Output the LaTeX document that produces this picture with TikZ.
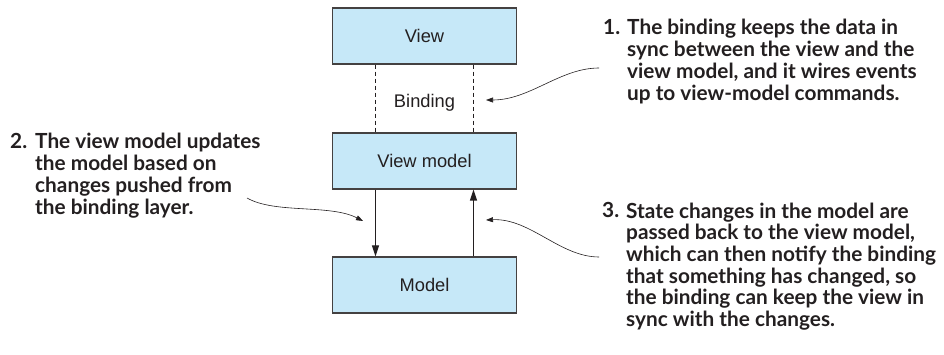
\documentclass[tikz,border=0pt]{standalone}
\usepackage{fontspec}
\setmainfont{Liberation Sans}
\newfontfamily\notefont{Lato}
\usetikzlibrary{arrows.meta,positioning}

\definecolor{boxblue}{HTML}{C6E8F8}
\definecolor{inkgray}{HTML}{231F20}

\tikzset{
    layer/.style={draw=inkgray!85, fill=boxblue, line width=1.1pt,
        minimum width=184pt, minimum height=56pt, text=inkgray,
        font=\fontsize{18.3}{21}\selectfont},
    bindline/.style={draw=inkgray, line width=1pt, dash pattern=on 4pt off 3pt},
    flow/.style={draw=inkgray, line width=1.1pt, -{Triangle[length=11pt,width=7pt]}},
    % base anchor of a multi-line note sits on its last line
    note/.style={text=inkgray, inner sep=0pt, anchor=base west, align=left,
        font=\notefont\bfseries\fontsize{20.8}{21.7}\selectfont},
    callout/.style={draw=inkgray, line width=0.6pt, -{Triangle[length=7pt,width=5pt]}}
}

\begin{document}
\begin{tikzpicture}[x=1pt, y=-1pt]
        \useasboundingbox (0,0) rectangle (944,355);

        \node[layer] (view) at (424.5, 36) {View};
        \node[layer] (vm) at (424.5, 161) {View model};
        \node[layer] (model) at (424.5, 285) {Model};
        \node[text=inkgray, anchor=base, inner sep=0pt, font=\fontsize{18.3}{21}\selectfont]
            (binding) at (424.5, 108) {Binding};

        \draw[bindline] ([xshift=-49pt]view.south) -- ([xshift=-49pt]vm.north);
        \draw[bindline] ([xshift=49pt]view.south) -- ([xshift=49pt]vm.north);
        \draw[flow] ([xshift=-49pt]vm.south) -- ([xshift=-49pt]model.north);
        \draw[flow] ([xshift=49pt]model.north) -- ([xshift=49pt]vm.south);

        \node[note] (num1) at (603, 35) {1.};
        \node[note] (note1) at (627, 100.1) {The binding keeps the data in\\
            sync between the view and the\\
            view model, and it wires events\\
            up to view-model commands.};
        \node[note] (num2) at (10, 149) {2.};
        \node[note] (note2) at (35, 214.1) {The view model updates\\
            the model based on\\
            changes pushed from\\
            the binding layer.};
        \node[note] (num3) at (602, 218) {3.};
        \node[note] (note3) at (626, 326.5) {State changes in the model are\\
            passed back to the view model,\\
            which can then notify the binding\\
            that something has changed, so\\
            the binding can keep the view in\\
            sync with the changes.};

        \coordinate (tail1) at (599, 68);
        \coordinate (tip1) at (486, 100);
        \coordinate (tail2) at (247, 198);
        \coordinate (tip2) at (363, 221);
        \coordinate (tail3) at (599, 257);
        \coordinate (tip3) at (486, 220);

        \draw[callout] (tail1) .. controls (560, 68) and (530, 100) .. (tip1);
        \draw[callout] (tail2) .. controls (275, 214) and (330, 204) .. (tip2);
        \draw[callout] (tail3) .. controls (560, 257) and (530, 218) .. (tip3);
    \end{tikzpicture}
\end{document}
